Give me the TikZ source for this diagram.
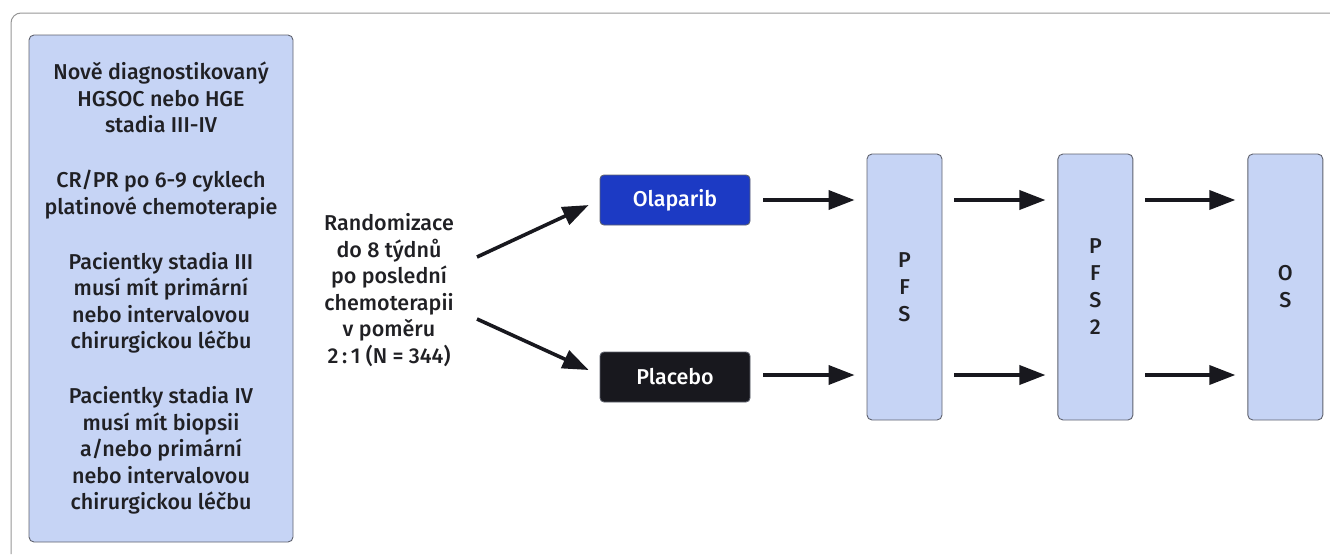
\documentclass[tikz,border=0pt]{standalone}
\usepackage{fontspec}
\setmainfont{Fira Sans Medium}
\usetikzlibrary{arrows.meta,positioning}

\definecolor{boxblue}{RGB}{198,212,245}
\definecolor{boxline}{RGB}{95,98,110}
\definecolor{olablue}{RGB}{28,58,196}
\definecolor{plablack}{RGB}{24,24,30}
\definecolor{textdark}{RGB}{32,32,36}
\definecolor{framegrey}{RGB}{150,150,150}

\tikzset{
  infobox/.style={draw=boxline, fill=boxblue, rounded corners=5pt, line width=0.9pt, text=textdark, align=center, inner sep=0pt},
  armbox/.style={draw=boxline, rounded corners=4pt, line width=0.9pt, text=white, minimum width=150pt, minimum height=50pt, inner sep=0pt},
  endbox/.style={infobox, minimum width=75pt, minimum height=266pt, font=\fontsize{21.5}{27}\selectfont},
  arr/.style={-{Triangle[length=26pt,width=19pt]}, line width=3.6pt, draw=plablack}
}

\begin{document}
\begin{tikzpicture}[x=1pt,y=1pt,yscale=-1,font=\fontsize{21.5}{26.5}\selectfont]
	\useasboundingbox (0,0) rectangle (1330,554);
	% outer frame, cut off at the right and bottom
	\draw [framegrey, line width=1pt, rounded corners=10pt] (11,554) -- (11,13) -- (1330,13);

	% inclusion criteria
	\node [infobox, minimum width=264pt, minimum height=507pt] (crit) at (161,288.5) {Nově diagnostikovaný\\HGSOC nebo HGE\\stadia III-IV\\[28.5pt]CR/PR po 6-9 cyklech\\platinové chemoterapie\\[28.5pt]Pacientky stadia III\\musí mít primární\\nebo intervalovou\\chirurgickou léčbu\\[28.5pt]Pacientky stadia IV\\musí mít biopsii\\a/nebo primární\\nebo intervalovou\\chirurgickou léčbu};

	% randomisation
	\node [align=center, text=textdark, inner sep=0pt] (rand) at (389,290) {Randomizace\\do 8 týdnů\\po poslední\\chemoterapii\\v poměru\\2\,:\,1 (N = 344)};
	\coordinate (r1) at (477,257);
	\coordinate (r2) at (477,319);

	% study arms
	\node [armbox, fill=olablue] (ola) at (675,200) {Olaparib};
	\node [armbox, fill=plablack] (pla) at (675,377) {Placebo};

	% end points
	\node [endbox] (pfs) at (904.5,287) {P\\F\\S};
	\node [endbox, right=115pt of pfs] (pfs2) {P\\F\\S\\2};
	\node [endbox, right=114pt of pfs2] (os) {O\\S};

	\draw [arr, shorten >=12pt] (r1) -- (ola.west);
	\draw [arr, shorten >=12pt] (r2) -- ([yshift=-2pt]pla.west);

	\draw [arr, shorten <=13pt, shorten >=12pt] (ola.east) -- (ola.east -| pfs.west);
	\draw [arr, shorten <=13pt, shorten >=12pt] ([yshift=-2pt]pla.east) -- ([yshift=-2pt]pla.east -| pfs.west);
	\draw [arr, shorten <=12pt, shorten >=12pt] (ola.east -| pfs.east) -- (ola.east -| pfs2.west);
	\draw [arr, shorten <=12pt, shorten >=12pt] ([yshift=-2pt]pla.east -| pfs.east) -- ([yshift=-2pt]pla.east -| pfs2.west);
	\draw [arr, shorten <=12pt, shorten >=12pt] (ola.east -| pfs2.east) -- (ola.east -| os.west);
	\draw [arr, shorten <=12pt, shorten >=12pt] ([yshift=-2pt]pla.east -| pfs2.east) -- ([yshift=-2pt]pla.east -| os.west);
\end{tikzpicture}
\end{document}
